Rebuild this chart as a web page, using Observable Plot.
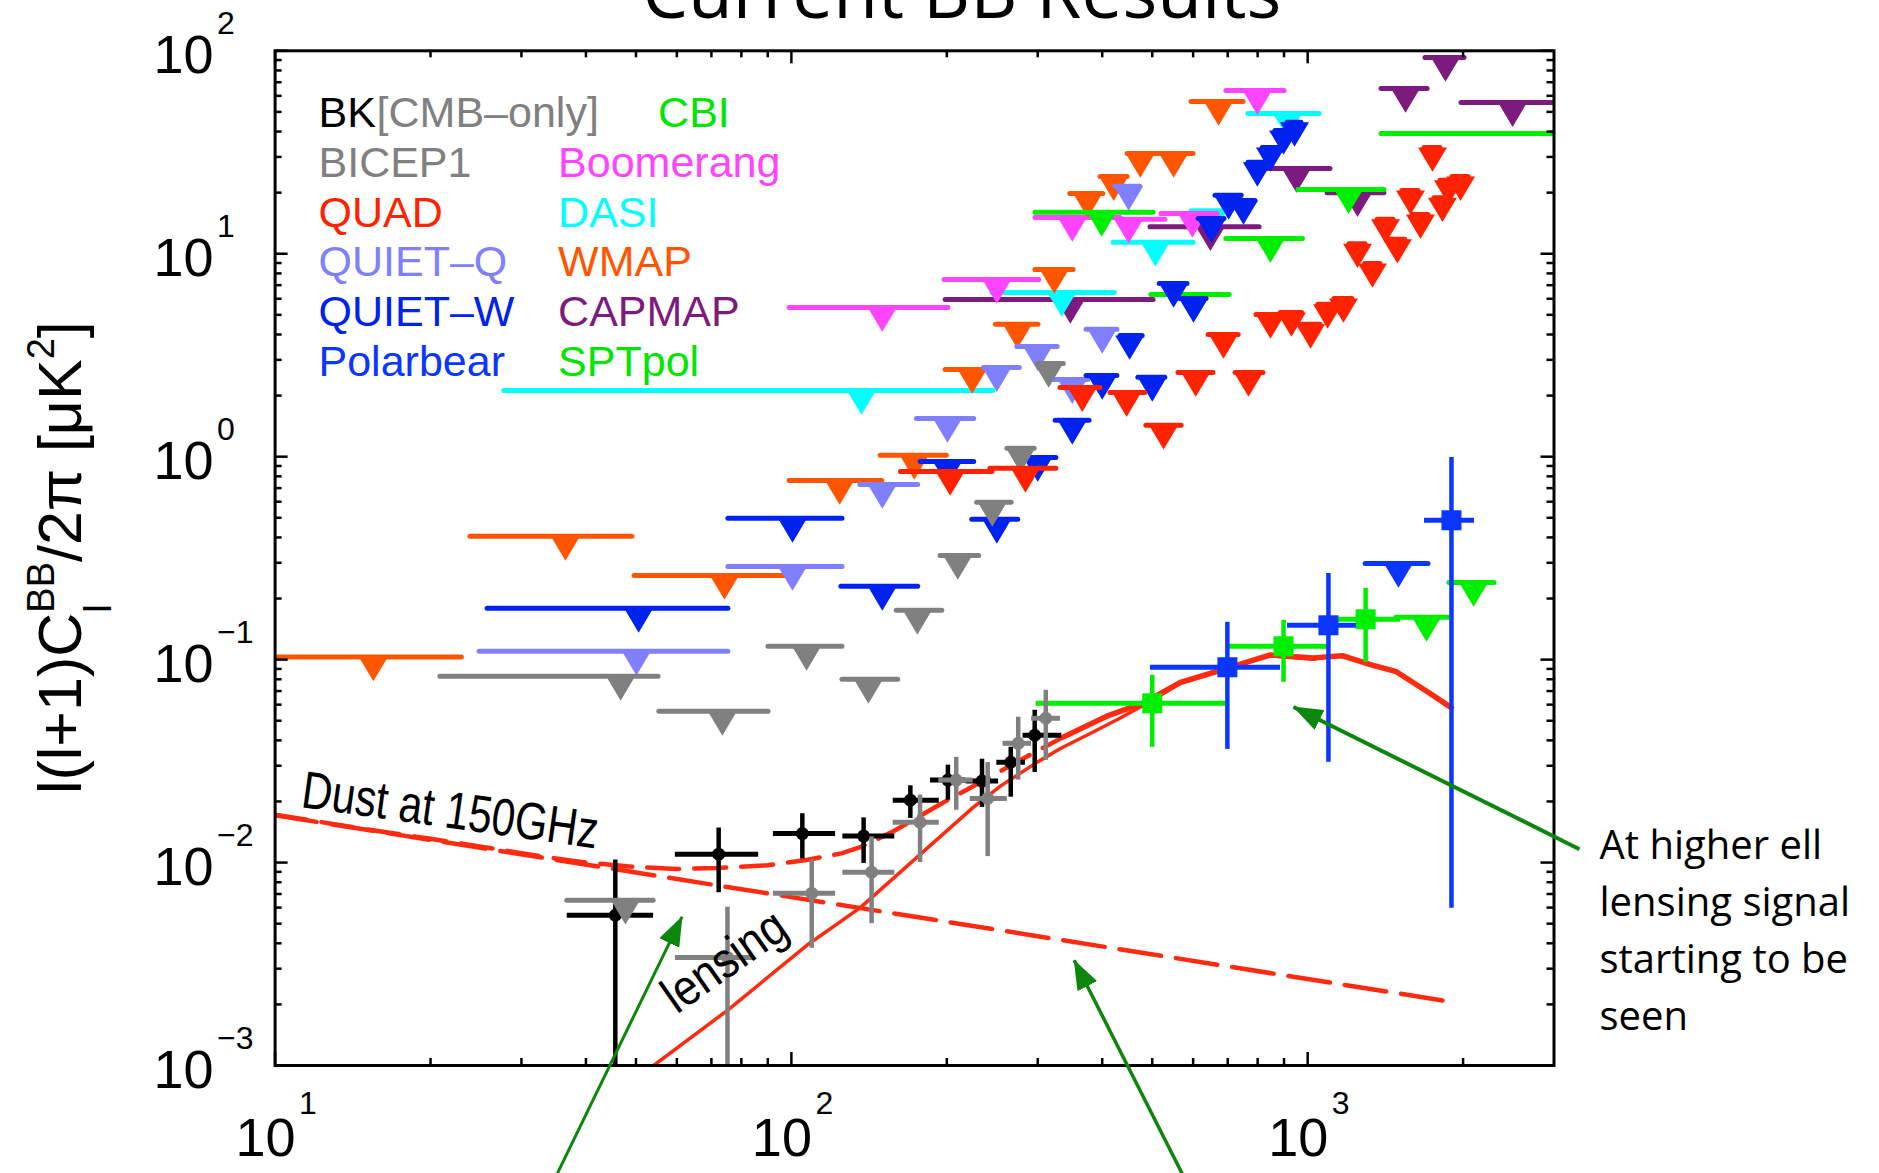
<!DOCTYPE html>
<html><head><meta charset="utf-8">
<script src="https://cdn.jsdelivr.net/npm/d3@7"></script>
<script src="https://cdn.jsdelivr.net/npm/@observablehq/plot@0.6"></script>
<style>body{margin:0;background:#fff}#chart svg{display:block}</style>
</head><body><div id="chart"></div>
<script>
// ---------- data: upper limits [ell, ellLo, ellHi, value] ----------
const WMAP = [[15.5,10,23,0.103],[36.5,23.9,49.2,0.405],[74.2,49.7,99.6,0.26],[124,99.2,150,0.764],[173,149,200,1.015],[224,199,251,2.69],[274,249,301,4.49],[323,297,352,8.37],[375,347,402,19.8],[421,397,448,24.0],[474,448,503,31.2],[550,507,601,31.2],[672,596,751,56.3]];
const QUIETQ = [[50.1,24.9,75.5,0.110],[100.5,75.5,125.6,0.288],[150,136,176,0.730],[200.6,175,226,1.544],[250,236,277,2.75],[300,274,328,3.49],[350,322,376,2.40],[400,373,428,4.24],[450,424,474,21.5]];
const QUIETW = [[50.6,25.8,75.5,0.179],[100.5,75.5,125.6,0.497],[150,125,176,0.2297],[200.6,178,226,0.948],[250,224,275,0.491],[300,277,326,0.992],[350,325,378,1.51],[400,373,428,2.515],[452,434,479,3.96],[500,470,530,2.46],[550,517,585,7.14],[601,567,637,6.02],[651,615,690,14.9],[703,663,745,19.4],[751,715,792,18.3],[799,768,832,28.2],[847,818,878,33.4],[898,866,930,40.5],[943,914,973,44.4]];
const POLARBEAR_UL = [[1499,1295,1714,0.298]];
const QUAD = [[203,163,245,0.846],[284,243,326,0.876],[366,332,397,2.19],[446,415,485,2.07],[526,487,570,1.43],[607,562,657,2.60],[768,725,821,2.60],[687,643,735,4.00],[847,796,894,5.02],[930,887,976,5.14],[1013,969,1059,4.49],[1093,1049,1137,5.63],[1173,1127,1221,6.02],[1249,1205,1295,11.2],[1335,1292,1384,8.96],[1415,1366,1467,14.8],[1492,1441,1545,11.8],[1582,1526,1640,20.5],[1654,1596,1714,15.6],[1745,1684,1808,33.4],[1824,1760,1890,18.9],[1874,1808,1942,23.0],[1977,1907,2050,24.0]];
const BICEP1 = [[46.7,20.9,55.3,0.0827],[73.5,55.5,90.3,0.0556],[107,90.3,125.6,0.1163],[141,125.6,161,0.080],[175.4,160,196,0.175],[210,194.5,231,0.326],[245,229,267,0.596],[278,262,296,1.10],[315,300,337,2.88]];
const BK_CMB_UL = [[47.7,36.8,54.1,0.00652]];
const BOOMERANG = [[150,99.2,201.5,5.44],[250,198,302,7.47],[350,297,434,15.1],[450,434,530,14.8],[598,521,669,15.8],[799,696,902,63.7]];
const DASI = [[136.7,27.8,246,2.12],[334,245,423,6.45],[507,421,601,11.4],[654,596,696,16.3],[914,768,1054,49.1]];
const CAPMAP = [[347,199,503,5.95],[648,496,807,13.6],[951,836,1107,26.3],[1249,1093,1408,20.0],[1547,1390,1707,65.2],[1849,1691,2013,92.7],[2494,1986,3000,55.6]];
const CBI = [[399,297,503,16.0],[607,498,706,6.30],[847,696,979,11.9],[1200,960,1408,20.7],[null,1390,3000,39.1]];
const SPTPOL_UL = [[1699,1486,1899,0.1616],[2096,1882,2300,0.240]];
// ---------- detections [ell, ellLo, ellHi, value, valueLo, valueHi] ----------
const SPTPOL = [[500,298,702,0.0609,0.037,0.0837],[898,699,1107,0.1163,0.0773,0.156],[1295,1097,1513,0.158,0.097,0.2245]];
const POLARBEAR = [[699,496,886,0.0917,0.0361,0.1527],[1097,914,1243,0.1476,0.0312,0.266],[1899,1684,2105,0.486,0.00596,0.992]];
const BK = [[45.6,36.8,54.1,0.0055,0.0001,0.0103],[72.3,59.6,86.4,0.0110,0.0071,0.0148],[105,92.3,121.8,0.0139,0.0104,0.0174],[138,125.8,158.6,0.0135,0.0099,0.0166],[170,157.5,193.4,0.0203,0.0165,0.0239],[201,186,218,0.0255,0.0203,0.0302],[234,218,252,0.0252,0.0187,0.0323],[266,250,284,0.0312,0.021,0.037],[296,281,334,0.0424,0.0278,0.0563]];
const BK_CMB = [[75.2,59.6,84.5,0.00341,0.0001,0.00602],[109.5,92.3,121.8,0.00706,0.00378,0.0103],[143,125.8,158.6,0.00897,0.0050,0.0134],[177.5,157.5,193.4,0.0158,0.0100,0.0215],[208.6,193,225,0.0255,0.0181,0.033],[240,222,262,0.0207,0.0107,0.0311],[275,257,292,0.0387,0.0255,0.052],[311,292,332,0.0514,0.0319,0.0706]];
// ---------- model curves [ell, value] ----------
const LENSING = [[54.1,0.001],[75.2,0.00187],[107,0.0039],[136,0.006],[175,0.0106],[225,0.0187],[254,0.0238],[298,0.031],[332,0.0365],[380,0.0434],[430,0.051],[483,0.060],[567,0.0764],[687,0.0887],[760,0.097],[847,0.1045],[940,0.102],[1026,0.1005],[1100,0.1035],[1167,0.104],[1250,0.099],[1323,0.0938],[1400,0.091],[1485,0.0867],[1580,0.079],[1683,0.0706],[1800,0.064],[1898,0.0575]];
const TOTAL_DASHED = [[10,0.0172],[15,0.0146],[20,0.0131],[26,0.0118],[33,0.0107],[40,0.0100],[50,0.0095],[60,0.0093],[72,0.0094],[90,0.0097],[107,0.0103],[125,0.0111],[136,0.0119],[158,0.0143],[195,0.0195],[240,0.026],[290,0.034],[336,0.0415]];
const TOTAL_SOLID = [[336,0.0415],[411,0.053],[483,0.0615],[567,0.0772],[687,0.0895],[847,0.1055],[1026,0.102],[1167,0.1045],[1323,0.0945],[1485,0.0872],[1683,0.071],[1898,0.058]];
const DUST = [[10,0.0171],[1897,0.00206]];
// ---------- ticks / labels ----------
const X_MAJOR = [10,100,1000];
const X_MINOR = [20,30,40,50,60,70,80,90,200,300,400,500,600,700,800,900,2000];
const Y_MAJOR = [0.001,0.01,0.1,1,10,100];
const Y_MINOR = [0.002,0.003,0.004,0.005,0.006,0.007,0.008,0.009,0.02,0.03,0.04,0.05,0.06,0.07,0.08,0.09,0.2,0.3,0.4,0.5,0.6,0.7,0.8,0.9,2,3,4,5,6,7,8,9,20,30,40,50,60,70,80,90];
const LEGEND_LEFT = [["BK","#000000"],["BICEP1","#808080"],["QUAD","#ff2200"],["QUIET\u2013Q","#8080ff"],["QUIET\u2013W","#0022ee"],["Polarbear","#0a36ff"]];
const LEGEND_RIGHT = [["CBI","#00e600"],["Boomerang","#ff44ff"],["DASI","#00ffff"],["WMAP","#ff5500"],["CAPMAP","#7d1a7d"],["SPTpol","#00e600"]];
const TITLE = "Current BB Results";
const NOTE = ["At higher ell","lensing signal","starting to be","seen"];
const ARROWS = [[34.7,2.72e-4,61.4,0.0054,3],[580,2.72e-4,353,0.0033,3.5],[3361,0.01164,939,0.0584,4]];
const DUST_LABEL = [11.2,0.0187];
const LENS_LABEL = [60.1,0.00177];

const RED = "#ff2a10", GREEN = "#0c860c";
const W = 1879, H = 1173, ML = 274.6, MR = 325.5, MT = 50.3, MB = 108;
const PW = W - ML - MR, PH = H - MT - MB;
const SANS = "Liberation Sans";
const CAL = "Open Sans";

const downTri = {draw(ctx, size){const r=Math.sqrt(size/Math.PI);ctx.moveTo(-r,0);ctx.lineTo(r,0);ctx.lineTo(0,1.68*r);ctx.closePath();}};

function ul(rows, color){
  const d = rows.map(([l,lo,hi,v])=>({l,lo,hi,v}));
  return [
    Plot.ruleY(d,{x1:"lo",x2:"hi",y:"v",stroke:color,strokeWidth:5,strokeLinecap:"round",clip:true}),
    Plot.dot(d.filter(o=>o.l!=null),{x:"l",y:"v",symbol:downTri,r:14.5,fill:color,clip:true})
  ];
}
function pts(rows, color, symbol, r){
  const d = rows.map(([l,lo,hi,v,vlo,vhi])=>({l,lo,hi,v,vlo,vhi}));
  return [
    Plot.ruleY(d,{x1:"lo",x2:"hi",y:"v",stroke:color,strokeWidth:5,clip:true}),
    Plot.ruleX(d,{x:"l",y1:"vlo",y2:"vhi",stroke:color,strokeWidth:4.5,clip:true}),
    Plot.dot(d,{x:"l",y:"v",symbol,r,fill:color,clip:true})
  ];
}
const curve = (rows)=>rows.map(([l,v])=>({l,v}));
const sup = (k)=>String(k).replace("-","\u2212");

const legendMarks = [];
LEGEND_LEFT.forEach(([t,c],i)=>legendMarks.push(Plot.text([t],{frameAnchor:"top-left",dx:43.4,dy:76.4+49.7*i,text:d=>d,fill:c,fontSize:43,fontFamily:SANS,textAnchor:"start",lineAnchor:"bottom"})));
legendMarks.push(Plot.text(["[CMB\u2013only]"],{frameAnchor:"top-left",dx:101.5,dy:76.4,text:d=>d,fill:"#808080",fontSize:43,fontFamily:SANS,textAnchor:"start",lineAnchor:"bottom"}));
LEGEND_RIGHT.forEach(([t,c],i)=>legendMarks.push(Plot.text([t],{frameAnchor:"top-left",dx:i===0?383:283,dy:76.4+49.7*i,text:d=>d,fill:c,fontSize:43,fontFamily:SANS,textAnchor:"start",lineAnchor:"bottom"})));

const chart = Plot.plot({
  width:W, height:H, marginLeft:ML, marginRight:MR, marginTop:MT, marginBottom:MB,
  x:{type:"log",domain:[10,3000],axis:null},
  y:{type:"log",domain:[1e-3,100],axis:null},
  style:{fontFamily:SANS,background:"white",color:"black"},
  marks:[
    // model curves
    Plot.line(curve(DUST),{x:"l",y:"v",stroke:RED,strokeWidth:4.5,strokeDasharray:"42,15",clip:true}),
    Plot.line(curve(TOTAL_DASHED),{x:"l",y:"v",stroke:RED,strokeWidth:4.5,strokeDasharray:"32,15",clip:true}),
    Plot.line(curve(TOTAL_SOLID),{x:"l",y:"v",stroke:RED,strokeWidth:5.5,clip:true}),
    Plot.line(curve(LENSING),{x:"l",y:"v",stroke:RED,strokeWidth:3.5,clip:true}),
    // upper limits
    ...ul(CAPMAP,"#7d1a7d"),
    ...ul(DASI,"#00ffff"),
    ...ul(BOOMERANG,"#ff44ff"),
    ...ul(WMAP,"#ff5500"),
    ...ul(CBI,"#00ee00"),
    ...ul(QUIETQ,"#8080ff"),
    ...ul(QUIETW,"#0022ee"),
    ...ul(BICEP1,"#808080"),
    ...ul(QUAD,"#ff2200"),
    ...ul(SPTPOL_UL,"#00ee00"),
    ...ul(POLARBEAR_UL,"#0a36ff"),
    // detections
    ...pts(SPTPOL,"#00ee00","square",11.3),
    ...pts(POLARBEAR,"#0a36ff","square",11.3),
    ...pts(BK,"#000000","circle",6.5),
    ...ul(BK_CMB_UL,"#808080"),
    ...pts(BK_CMB,"#808080","circle",6.5),
    // frame & ticks
    Plot.frame({stroke:"black",strokeWidth:3}),
    Plot.tickX(X_MAJOR,{x:d=>d,insetTop:PH-13,stroke:"black",strokeWidth:2.5}),
    Plot.tickX(X_MAJOR,{x:d=>d,insetBottom:PH-13,stroke:"black",strokeWidth:2.5}),
    Plot.tickX(X_MINOR,{x:d=>d,insetTop:PH-7,stroke:"black",strokeWidth:2.5}),
    Plot.tickX(X_MINOR,{x:d=>d,insetBottom:PH-7,stroke:"black",strokeWidth:2.5}),
    Plot.tickY(Y_MAJOR,{y:d=>d,insetRight:PW-13,stroke:"black",strokeWidth:2.5}),
    Plot.tickY(Y_MAJOR,{y:d=>d,insetLeft:PW-13,stroke:"black",strokeWidth:2.5}),
    Plot.tickY(Y_MINOR,{y:d=>d,insetRight:PW-7,stroke:"black",strokeWidth:2.5}),
    Plot.tickY(Y_MINOR,{y:d=>d,insetLeft:PW-7,stroke:"black",strokeWidth:2.5}),
    // tick labels
    Plot.text(X_MAJOR,{x:d=>d,frameAnchor:"bottom",text:()=>"10",textAnchor:"middle",lineAnchor:"bottom",dx:-9.5,dy:90,fontSize:54,fontFamily:SANS,fill:"black"}),
    Plot.text(X_MAJOR,{x:d=>d,frameAnchor:"bottom",text:d=>sup(Math.round(Math.log10(d))),textAnchor:"start",lineAnchor:"bottom",dx:24,dy:48,fontSize:32,fontFamily:SANS,fill:"black"}),
    Plot.text(Y_MAJOR,{y:d=>d,frameAnchor:"left",text:()=>"10",textAnchor:"end",lineAnchor:"bottom",dx:-61.6,dy:22,fontSize:54,fontFamily:SANS,fill:"black"}),
    Plot.text(Y_MAJOR,{y:d=>d,frameAnchor:"left",text:d=>sup(Math.round(Math.log10(d))),textAnchor:"start",lineAnchor:"bottom",dx:-58,dy:-17,fontSize:32,fontFamily:SANS,fill:"black"}),
    // legend
    ...legendMarks,
    // arrows
    Plot.link(ARROWS.map(([x1,y1,x2,y2,w])=>({x1,y1,x2,y2,w})),{x1:"x1",y1:"y1",x2:"x2",y2:"y2",stroke:GREEN,strokeWidth:"w"}),
    // title and note
    Plot.text([TITLE],{frameAnchor:"top",dx:47,dy:-33.3,text:d=>d,lineAnchor:"bottom",fontSize:73,fontFamily:CAL,fill:"black"}),
    Plot.text([NOTE.join("\n")],{frameAnchor:"top-right",dx:45.5,dy:768,text:d=>d,textAnchor:"start",lineAnchor:"top",lineHeight:1.425,fontSize:40,fontFamily:CAL,fill:"black"})
  ]
});
document.getElementById("chart").appendChild(chart);

// arrowheads
const svg = d3.select(chart);
const defs = svg.append("defs");
defs.append("marker").attr("id","ahead").attr("markerUnits","userSpaceOnUse").attr("viewBox","0 0 30 22")
  .attr("markerWidth",30).attr("markerHeight",22).attr("refX",29).attr("refY",11).attr("orient","auto")
  .append("path").attr("d","M0,0L30,11L0,22Z").attr("fill",GREEN);
svg.selectAll('g[aria-label="link"] path').attr("marker-end","url(#ahead)");

// rotated annotations placed through the plot's scales
const sx = chart.scale("x"), sy = chart.scale("y");
function rotLabel(pos, txt, angle, size, sy2){
  svg.append("text").attr("transform",`translate(${sx.apply(pos[0])},${sy.apply(pos[1])}) rotate(${angle}) scale(1,${sy2})`)
    .attr("text-anchor","start").attr("font-family",SANS).attr("font-size",size).attr("fill","black").text(txt);
}
rotLabel(DUST_LABEL,"Dust at 150GHz",8,42,1.25);
rotLabel(LENS_LABEL,"lensing",-35,44,1.15);

// y-axis label with sub/superscripts
const yl = svg.append("text").attr("transform",`translate(81,${MT+PH/2}) rotate(-90)`).attr("text-anchor","middle")
  .attr("font-family",SANS).attr("font-size",61).attr("fill","black");
yl.append("tspan").text("l(l+1)C");
yl.append("tspan").attr("font-size",38).attr("dy",30).text("l");
yl.append("tspan").attr("font-size",38).attr("dx",-8.4).attr("dy",-57).text("BB");
yl.append("tspan").attr("dy",27).text("/2\u03c0 [\u03bcK");
yl.append("tspan").attr("font-size",38).attr("dy",-27).text("2");
yl.append("tspan").attr("dy",27).text("]");
</script></body></html>
